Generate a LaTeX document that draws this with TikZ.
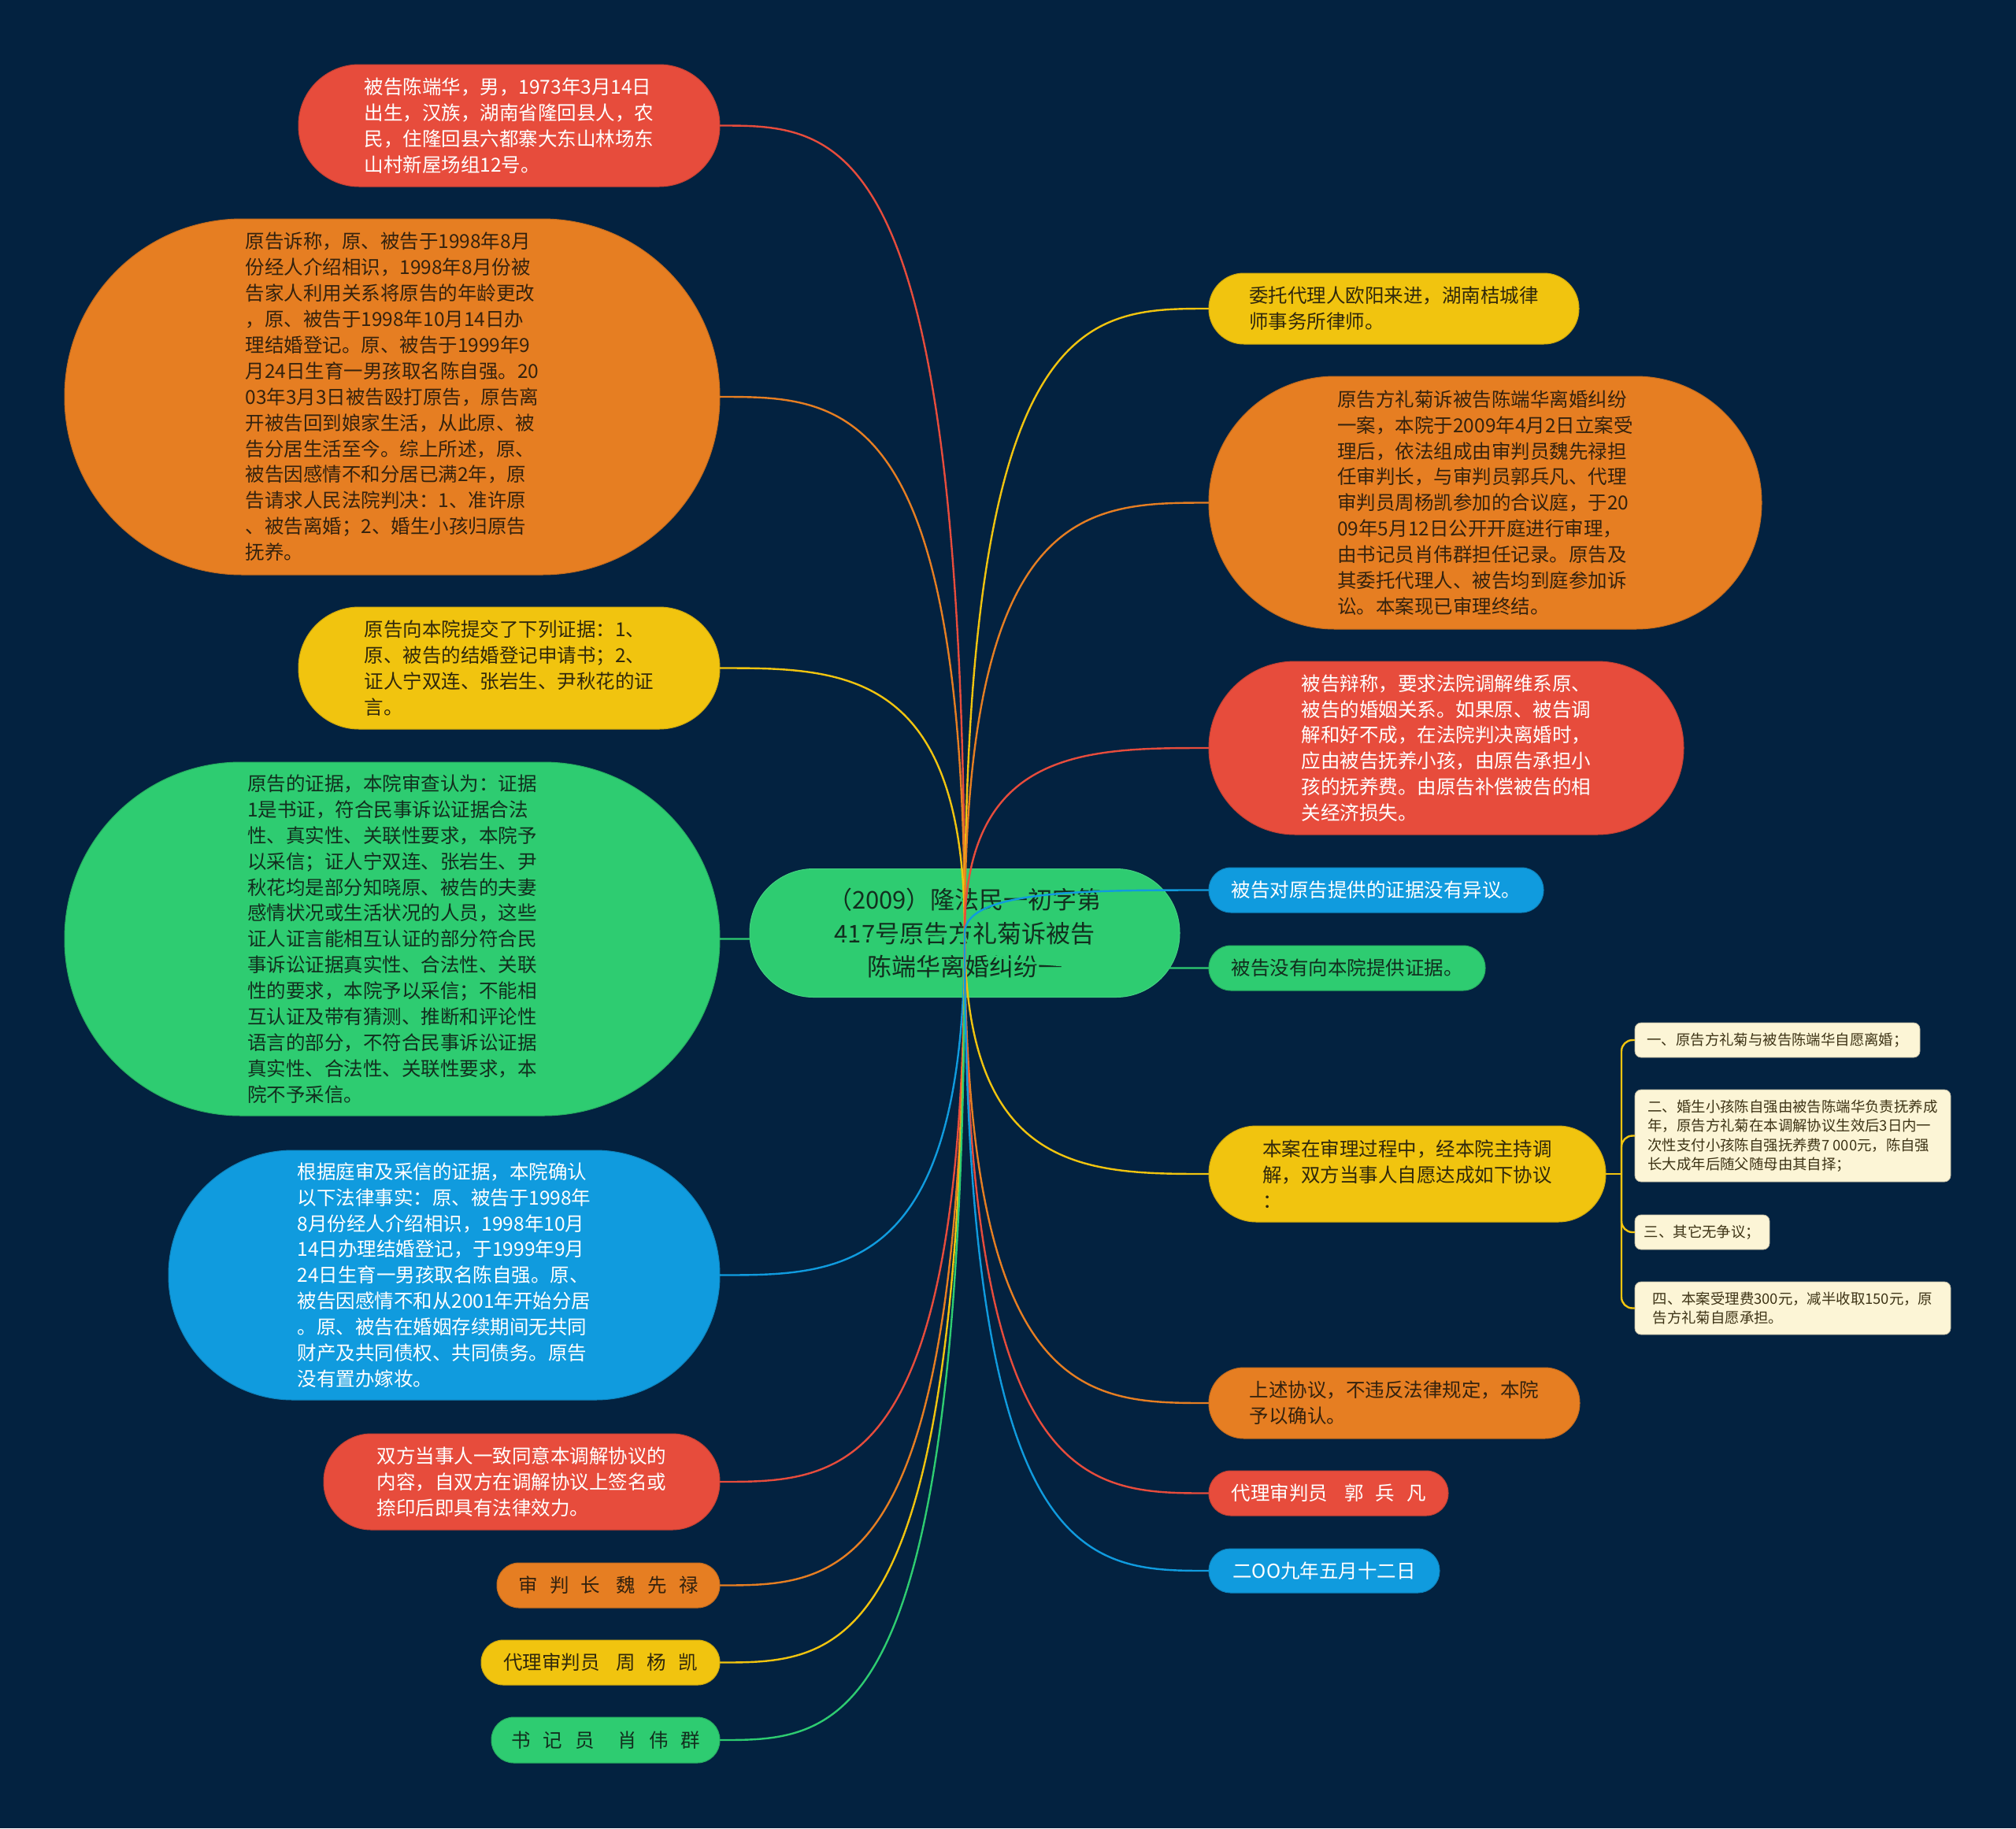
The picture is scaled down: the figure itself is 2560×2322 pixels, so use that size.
\documentclass[tikz,border=0pt]{standalone}
\usepackage{fontspec}
\usepackage{tikz}
\usetikzlibrary{calc}
\newfontfamily\cjk{Noto Sans CJK SC}
\definecolor{bgnavy}{RGB}{3,34,64}
\definecolor{myred}{RGB}{231,76,60}
\definecolor{myorange}{RGB}{230,126,34}
\definecolor{myyellow}{RGB}{241,196,15}
\definecolor{mygreen}{RGB}{46,204,113}
\definecolor{myblue}{RGB}{16,155,222}
\definecolor{mycream}{RGB}{252,245,214}
\definecolor{txtorange}{RGB}{52,34,14}
\definecolor{txtyellow}{RGB}{48,40,12}
\definecolor{txtgreen}{RGB}{18,46,30}
\definecolor{txtcream}{RGB}{62,52,22}
\newcommand{\ngap}{\hspace{15pt}}
\newcommand{\wgap}{\hspace{21pt}}
\tikzset{
  pill/.style={rectangle, inner sep=0pt, outer sep=0pt, align=left,
    line width=1pt, font=\cjk\fontsize{24.5}{32.9}\selectfont},
  dims/.style 2 args={minimum width=#1, minimum height=#2,
    rounded corners=#2/2-0.5},
  redpill/.style={pill, fill=myred, draw=myred!85!black, text=white},
  orangepill/.style={pill, fill=myorange, draw=myorange!85!black, text=txtorange},
  yellowpill/.style={pill, fill=myyellow, draw=myyellow!85!black, text=txtyellow},
  greenpill/.style={pill, fill=mygreen, draw=mygreen!85!black, text=txtgreen},
  bluepill/.style={pill, fill=myblue, draw=myblue!85!black, text=white},
  rootpill/.style={pill, fill=mygreen, draw=mygreen!90!white, align=center,
    text=txtgreen, font=\cjk\fontsize{31}{42.5}\selectfont},
  subbox/.style={pill, fill=mycream, draw=mycream!75!black, line width=0.8pt,
    rounded corners=8, text=txtcream, font=\cjk\fontsize{18.4}{24.4}\selectfont},
  link/.style={line width=2.4pt, to path={.. controls (\tikztostart |- \tikztotarget)
    and ($(\tikztostart |- \tikztotarget)!0.5!(\tikztotarget)$) .. (\tikztotarget)}},
  sublink/.style={line width=2.4pt, color=myyellow, rounded corners=14}
}
\begin{document}
\begin{tikzpicture}[x=1pt, y=-1pt]
  \fill[bgnavy] (0,0) rectangle (2560,2322);
  \useasboundingbox (0,0) rectangle (2560,2322);

  % centre topic
  \node[rootpill, dims={546}{163}] (root) at (1225,1185)
    {（2009）隆法民一初字第\\417号原告方礼菊诉被告\\陈端华离婚纠纷一};
  \coordinate (hub) at (1225,1185);

  % left side
  \node[redpill, dims={535}{155}] (accused) at (646.5,159.5)
    {被告陈端华，男，1973年3月14日\\出生，汉族，湖南省隆回县人，农\\民，住隆回县六都寨大东山林场东\\山村新屋场组12号。};
  \node[orangepill, dims={832}{452}] (claim) at (498,504)
    {原告诉称，原、被告于1998年8月\\份经人介绍相识，1998年8月份被\\告家人利用关系将原告的年龄更改\\，原、被告于1998年10月14日办\\理结婚登记。原、被告于1999年9\\月24日生育一男孩取名陈自强。20\\03年3月3日被告殴打原告，原告离\\开被告回到娘家生活，从此原、被\\告分居生活至今。综上所述，原、\\被告因感情不和分居已满2年，原\\告请求人民法院判决：1、准许原\\、被告离婚；2、婚生小孩归原告\\抚养。};
  \node[yellowpill, dims={535}{155}] (evidence) at (646.5,848.5)
    {原告向本院提交了下列证据：1、\\原、被告的结婚登记申请书；2、\\证人宁双连、张岩生、尹秋花的证\\言。};
  \node[greenpill, dims={832}{449}] (review) at (498,1192.5)
    {原告的证据，本院审查认为：证据\\1是书证，符合民事诉讼证据合法\\性、真实性、关联性要求，本院予\\以采信；证人宁双连、张岩生、尹\\秋花均是部分知晓原、被告的夫妻\\感情状况或生活状况的人员，这些\\证人证言能相互认证的部分符合民\\事诉讼证据真实性、合法性、关联\\性的要求，本院予以采信；不能相\\互认证及带有猜测、推断和评论性\\语言的部分，不符合民事诉讼证据\\真实性、合法性、关联性要求，本\\院不予采信。};
  \node[bluepill, dims={700}{317}] (facts) at (564,1619.5)
    {根据庭审及采信的证据，本院确认\\以下法律事实：原、被告于1998年\\8月份经人介绍相识，1998年10月\\14日办理结婚登记，于1999年9月\\24日生育一男孩取名陈自强。原、\\被告因感情不和从2001年开始分居\\。原、被告在婚姻存续期间无共同\\财产及共同债权、共同债务。原告\\没有置办嫁妆。};
  \node[redpill, dims={503}{122}] (effect) at (662.5,1882)
    {双方当事人一致同意本调解协议的\\内容，自双方在调解协议上签名或\\捺印后即具有法律效力。};
  \node[orangepill, dims={283}{57}] (chief) at (772.5,2013.5)
    {审\ngap 判\ngap 长\wgap 魏\ngap 先\ngap 禄};
  \node[yellowpill, dims={303}{57}] (actjudge) at (762.5,2111.5)
    {代理审判员\wgap 周\ngap 杨\ngap 凯};
  \node[greenpill, dims={290}{58}] (clerk) at (769,2210)
    {书\ngap 记\hspace{17pt}员\hspace{30pt}肖\ngap 伟\ngap 群};

  % right side
  \node[yellowpill, dims={470}{90}] (agent) at (1770,392)
    {委托代理人欧阳来进，湖南桔城律\\师事务所律师。};
  \node[orangepill, dims={702}{321}] (trial) at (1886,638.5)
    {原告方礼菊诉被告陈端华离婚纠纷\\一案，本院于2009年4月2日立案受\\理后，依法组成由审判员魏先禄担\\任审判长，与审判员郭兵凡、代理\\审判员周杨凯参加的合议庭，于20\\09年5月12日公开开庭进行审理，\\由书记员肖伟群担任记录。原告及\\其委托代理人、被告均到庭参加诉\\讼。本案现已审理终结。};
  \node[redpill, dims={603}{220}] (defence) at (1836.5,950)
    {被告辩称，要求法院调解维系原、\\被告的婚姻关系。如果原、被告调\\解和好不成，在法院判决离婚时，\\应由被告抚养小孩，由原告承担小\\孩的抚养费。由原告补偿被告的相\\关经济损失。};
  \node[bluepill, dims={425}{57}] (noobj) at (1747.5,1130.5)
    {被告对原告提供的证据没有异议。};
  \node[greenpill, dims={351}{57}] (noproof) at (1710.5,1229.5)
    {被告没有向本院提供证据。};
  \node[yellowpill, dims={504}{122}] (settle) at (1787,1491)
    {本案在审理过程中，经本院主持调\\解，双方当事人自愿达成如下协议\\：};
  \node[orangepill, dims={471}{90}] (confirm) at (1770.5,1782)
    {上述协议，不违反法律规定，本院\\予以确认。};
  \node[redpill, dims={304}{57}] (actjudge2) at (1687,1896.5)
    {代理审判员\wgap 郭\ngap 兵\ngap 凡};
  \node[bluepill, dims={293}{56}] (date) at (1681.5,1995)
    {二OO九年五月十二日};

  % agreement terms
  \node[subbox, minimum width=362, minimum height=44] (term1) at (2257,1321)
    {一、原告方礼菊与被告陈端华自愿离婚；};
  \node[subbox, minimum width=401, minimum height=117] (term2) at (2276.5,1442.5)
    {二、婚生小孩陈自强由被告陈端华负责抚养成\\年，原告方礼菊在本调解协议生效后3日内一\\次性支付小孩陈自强抚养费7 000元，陈自强\\长大成年后随父随母由其自择；};
  \node[subbox, minimum width=171, minimum height=44] (term3) at (2161.5,1565)
    {三、其它无争议；};
  \node[subbox, minimum width=401, minimum height=67] (term4) at (2276.5,1661.5)
    {四、本案受理费300元，减半收取150元，原\\告方礼菊自愿承担。};

  % branches
  \draw[link, myred] (hub) to (accused.east);
  \draw[link, myorange] (hub) to (claim.east);
  \draw[link, myyellow] (hub) to (evidence.east);
  \draw[link, mygreen] (hub) to (review.east);
  \draw[link, myblue] (hub) to (facts.east);
  \draw[link, myred] (hub) to (effect.east);
  \draw[link, myorange] (hub) to (chief.east);
  \draw[link, myyellow] (hub) to (actjudge.east);
  \draw[link, mygreen] (hub) to (clerk.east);
  \draw[link, myyellow] (hub) to (agent.west);
  \draw[link, myorange] (hub) to (trial.west);
  \draw[link, myred] (hub) to (defence.west);
  \draw[link, myblue] (hub) to (noobj.west);
  \draw[link, mygreen] (hub) to (noproof.west);
  \draw[link, myyellow] (hub) to (settle.west);
  \draw[link, myorange] (hub) to (confirm.west);
  \draw[link, myred] (hub) to (actjudge2.west);
  \draw[link, myblue] (hub) to (date.west);

  % bracket to the terms
  \coordinate (fork) at (2059,1491);
  \draw[sublink] (settle.east) -- (fork);
  \draw[sublink] (fork) |- (term1.west);
  \draw[sublink] (fork) |- (term2.west);
  \draw[sublink] (fork) |- (term3.west);
  \draw[sublink] (fork) |- (term4.west);
\end{tikzpicture}
\end{document}
